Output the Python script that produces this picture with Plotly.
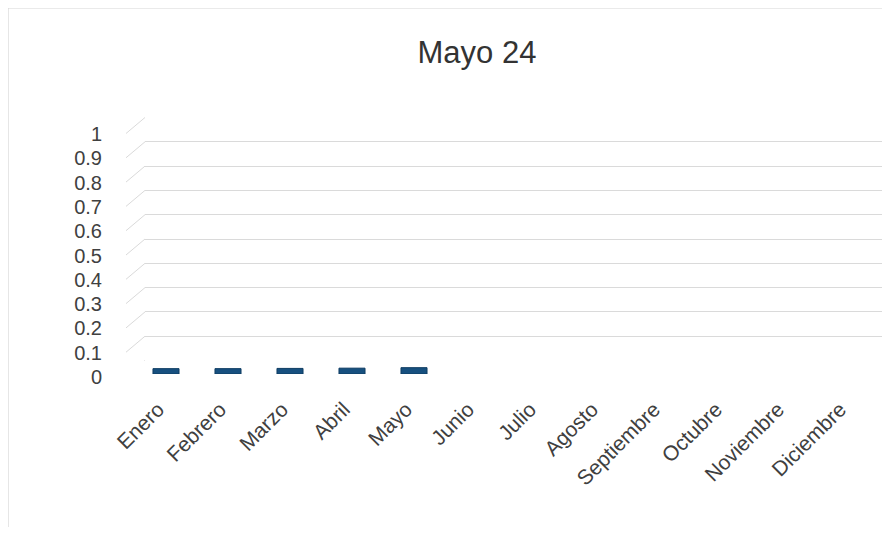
import plotly.graph_objects as go

# ---- data ----
meses = ["Enero", "Febrero", "Marzo", "Abril", "Mayo", "Junio", "Julio",
         "Agosto", "Septiembre", "Octubre", "Noviembre", "Diciembre"]
valores = [0.022, 0.022, 0.023, 0.024, 0.026, None, None, None, None, None, None, None]
y_ticks = [0, 0.1, 0.2, 0.3, 0.4, 0.5, 0.6, 0.7, 0.8, 0.9, 1]
y_tick_labels = ["0", "0.1", "0.2", "0.3", "0.4", "0.5", "0.6", "0.7", "0.8", "0.9", "1"]
titulo = "Mayo 24"

OFF = 8                      # default page body margin
W, H = 890 - 2 * OFF, 535 - 2 * OFF
FONT = "Liberation Sans, Arial, sans-serif"
TXT = "#404040"

def px_x(p):
    return (p - OFF) / W

def px_y(p):
    return 1 - (p - OFF) / H

fig = go.Figure()
fig.add_trace(go.Bar(
    x=meses, y=valores, xaxis="x", yaxis="y",
    marker=dict(color="#17507f", line=dict(color="#0f3d63", width=1)),
    width=0.42, showlegend=False, hoverinfo="x+y",
))

# diagonal "3D wall" connectors from label level to back wall gridlines
shapes = []
for t in y_ticks:
    shapes.append(dict(
        type="line", layer="below",
        xref="paper", x0=px_x(126), x1=px_x(145),
        yref="y2", ysizemode="pixel", yanchor=t, y0=-16, y1=0,
        line=dict(color="#dadada", width=1),
    ))
# faint chart border
shapes.append(dict(type="rect", xref="paper", yref="paper",
                   x0=0, x1=1.02, y0=-0.02, y1=1,
                   line=dict(color="#d6d6d6", width=1.2), layer="below"))

fig.update_layout(
    width=W, height=H,
    margin=dict(l=0, r=0, t=0, b=0, autoexpand=False),
    paper_bgcolor="white", plot_bgcolor="rgba(0,0,0,0)",
    font=dict(family=FONT, color=TXT),
    title=dict(text=titulo, xref="paper", yref="paper",
               x=px_x(477), y=px_y(52), xanchor="center", yanchor="middle",
               font=dict(size=31, color="#333333", family=FONT)),
    showlegend=False,
    xaxis=dict(
        domain=[px_x(135), px_x(879)], range=[-0.5, 11.5], type="category",
        anchor="free", position=px_y(392), automargin=False,
        tickangle=-45, tickfont=dict(size=21, color=TXT), ticklabelshift=-8,
        showgrid=False, zeroline=False, showline=False, ticks="",
    ),
    yaxis=dict(
        domain=[px_y(374), px_y(131)], range=[0, 1],
        anchor="free", position=px_x(102), automargin=False,
        tickvals=y_ticks, ticktext=y_tick_labels,
        tickfont=dict(size=20, color=TXT), ticklabelshift=3,
        showgrid=False, zeroline=False, showline=False, ticks="",
    ),
    xaxis2=dict(
        domain=[px_x(145), px_x(882)], anchor="y2", range=[0, 1], automargin=False,
        showgrid=False, zeroline=False, showline=False, showticklabels=False, ticks="",
    ),
    yaxis2=dict(
        domain=[px_y(361), px_y(117)], anchor="x2", range=[-0.002, 1.002], automargin=False,
        tickvals=y_ticks, showticklabels=False, ticks="",
        showgrid=True, gridcolor="#dadada", gridwidth=1,
        zeroline=False, showline=False,
    ),
    shapes=shapes,
)

fig.write_html("out.html")
